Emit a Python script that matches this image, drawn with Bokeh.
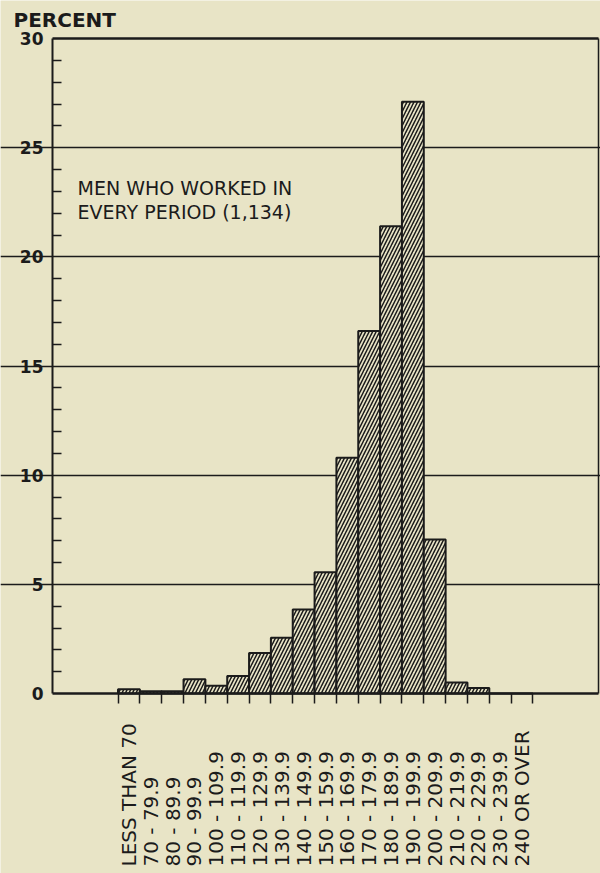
import math
from bokeh.plotting import figure
from bokeh.models import (ColumnDataSource, Range1d, FixedTicker, Label, LinearAxis)
from bokeh.core.properties import value
from bokeh.embed import file_html
from bokeh.resources import INLINE

# ---- data ----
categories = ["LESS THAN 70", "70 - 79.9", "80 - 89.9", "90 - 99.9", "100 - 109.9",
              "110 - 119.9", "120 - 129.9", "130 - 139.9", "140 - 149.9", "150 - 159.9",
              "160 - 169.9", "170 - 179.9", "180 - 189.9", "190 - 199.9", "200 - 209.9",
              "210 - 219.9", "220 - 229.9", "230 - 239.9", "240 OR OVER"]
percent = [0.2, 0.1, 0.1, 0.65, 0.35, 0.8, 1.85, 2.55, 3.85, 5.55,
           10.8, 16.6, 21.4, 27.1, 7.05, 0.5, 0.25, 0.0, 0.0]
y_ticks = [0, 5, 10, 15, 20, 25, 30]
y_minor = [v for v in range(0, 31) if v % 5 != 0]
grid_lines = [5, 10, 15, 20, 25]
annotation = ["MEN WHO WORKED IN", "EVERY PERIOD (1,134)"]
heading = "PERCENT"

BG = "#e8e4c6"
INK = "#1b1b1b"
FONT = "DejaVu Sans"

offset = 3      # empty class slots left of the first bar
n_slots = 25    # slots across the chart box
centers = [offset + i + 0.5 for i in range(len(categories))]
edges = [offset + i for i in range(len(categories) + 1)]

W, H = 600, 873
TOP = 38                   # px above the 30% line
LEFT, RIGHT = 52, 2        # px left of the y axis / right of the box
PX_X = (W - LEFT - RIGHT) / n_slots
PX_Y = 655 / 30.0
y_high = 30 + TOP / PX_Y
y_low = 30 - (H - TOP) / PX_Y          # frame runs to the canvas bottom (label strip)
label_y = -(866 - 693) / PX_Y          # where the vertical class labels start

p = figure(width=W, height=H, output_backend="svg", toolbar_location=None,
           x_range=Range1d(-LEFT / PX_X, n_slots + RIGHT / PX_X),
           y_range=Range1d(y_low, y_high),
           min_border_left=0, min_border_right=0, min_border_top=0,
           min_border_bottom=0)
p.background_fill_color = BG
p.border_fill_color = BG
p.outline_line_color = None

src = ColumnDataSource(dict(x=centers, top=percent, cat=categories,
                            ly=[label_y] * len(categories)))
p.vbar(x="x", top="top", bottom=0, width=1.0, source=src,
       fill_color=BG, line_color=INK, line_width=2,
       hatch_pattern="/", hatch_color=INK, hatch_scale=7, hatch_weight=1.5)

# grid (only across the chart box)
p.xgrid.visible = False
p.ygrid.ticker = FixedTicker(ticks=grid_lines)
p.ygrid.bounds = (0, n_slots)
p.ygrid.grid_line_color = INK
p.ygrid.grid_line_width = 1.3

# left y axis drawn at x = 0, limited to 0..30
ya = p.yaxis[0]
ya.fixed_location = 0
ya.bounds = (0, 30)
ya.ticker = FixedTicker(ticks=y_ticks, minor_ticks=y_minor)
ya.axis_line_color = INK
ya.axis_line_width = 2
ya.major_tick_in = 0
ya.major_tick_out = 0
ya.minor_tick_in = 9
ya.minor_tick_out = 0
ya.minor_tick_line_color = INK
ya.minor_tick_line_width = 1.5
ya.major_label_standoff = 9
ya.major_label_text_font = FONT
ya.major_label_text_font_style = "bold"
ya.major_label_text_font_size = "17px"
ya.major_label_text_color = INK

# x axis drawn on the zero line, ticks at class boundaries
xa = p.xaxis[0]
xa.fixed_location = 0
xa.bounds = (0, n_slots)
xa.ticker = FixedTicker(ticks=edges, minor_ticks=[])
xa.axis_line_color = INK
xa.axis_line_width = 2.5
xa.major_tick_in = 0
xa.major_tick_out = 10
xa.major_tick_line_color = INK
xa.major_tick_line_width = 1.5
xa.major_label_overrides = {e: "" for e in edges}

# box edges: top and right
top_axis = LinearAxis(ticker=FixedTicker(ticks=[], minor_ticks=[]), fixed_location=30,
                      bounds=(0, n_slots),
                      axis_line_color=INK, axis_line_width=2.5,
                      major_tick_out=0, major_tick_in=0, minor_tick_out=0,
                      minor_tick_in=0, major_label_standoff=0)
p.add_layout(top_axis, "above")
right_axis = LinearAxis(ticker=FixedTicker(ticks=[], minor_ticks=[]),
                        fixed_location=n_slots, bounds=(0, 30),
                        axis_line_color=INK, axis_line_width=1.5,
                        major_tick_out=0, major_tick_in=0, minor_tick_out=0,
                        minor_tick_in=0, major_label_standoff=0)
p.add_layout(right_axis, "right")

# vertical class labels below the zero line
p.text(x="x", y="ly", text="cat", source=src, angle=math.pi / 2,
       text_align="left", text_baseline="middle",
       text_font=value(FONT), text_font_size="20px", text_color=INK)

# heading above the y axis
p.add_layout(Label(x=(13 - LEFT) / PX_X, y=30 + (TOP - 19) / PX_Y, text=heading,
                   text_font=FONT, text_font_style="bold", text_font_size="20px",
                   text_color=INK, text_baseline="alphabetic"))

# in-chart annotation
for txt, yy in zip(annotation, [23.17, 22.07]):
    p.add_layout(Label(x=1.15, y=yy, text=txt, text_font=FONT,
                       text_font_size="19px", text_color=INK,
                       text_baseline="alphabetic"))

open("out.html", "w").write(file_html(p, INLINE))
